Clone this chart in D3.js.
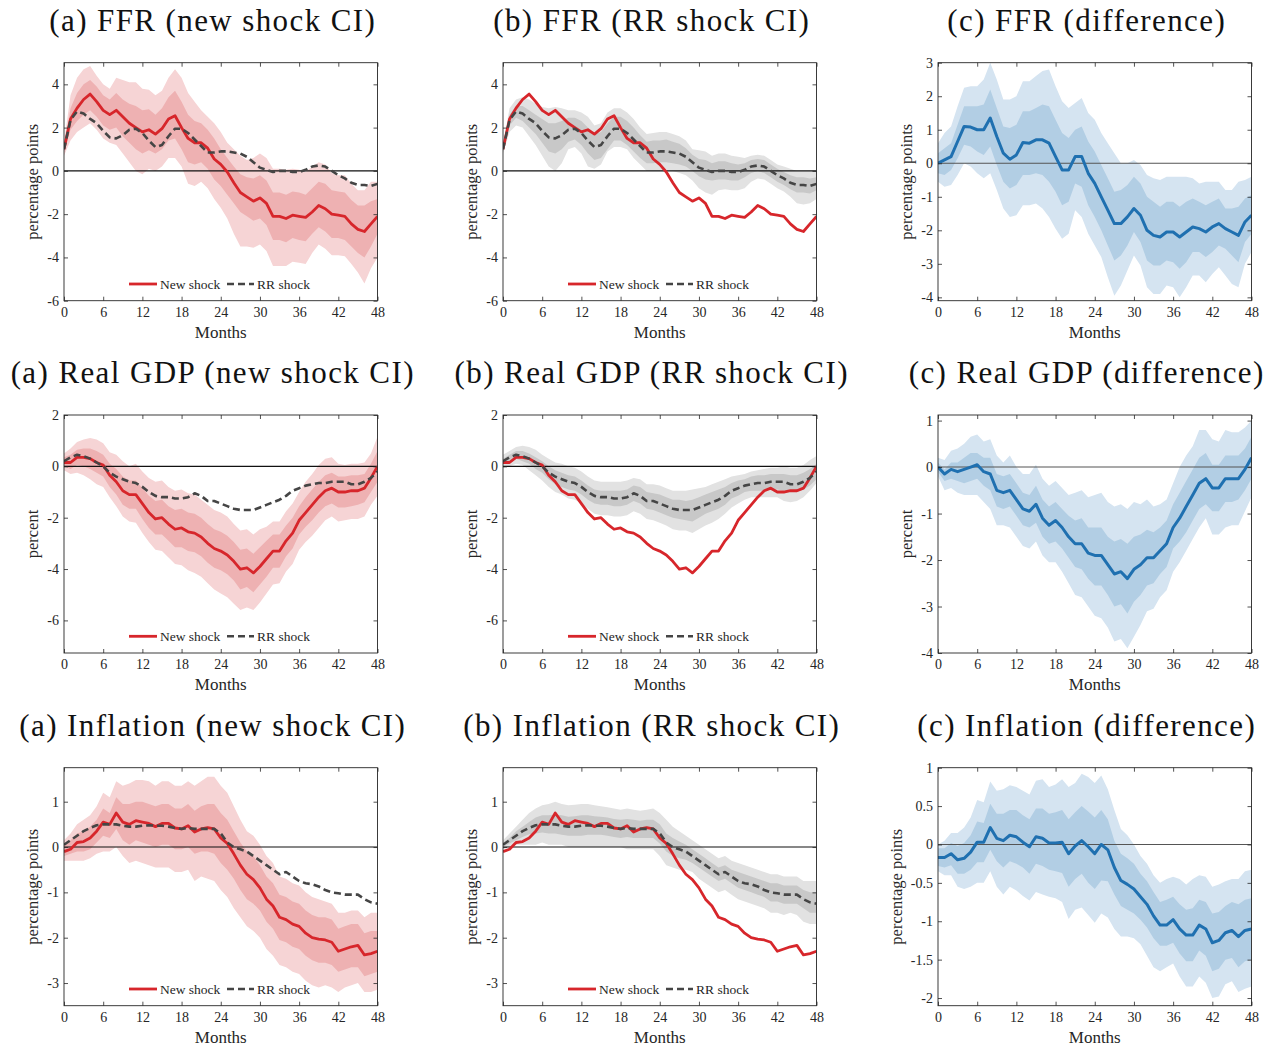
<!DOCTYPE html>
<html>
<head>
<meta charset="utf-8">
<script src="https://d3js.org/d3.v7.min.js"></script>
<style>
  body { margin: 0; background: #fff; }
  text { font-family: "Liberation Serif", "DejaVu Serif", serif; fill: #262626; }
</style>
</head>
<body>
<script>
// horizon in months
var months = d3.range(0, 49);
var monthTicks = [0, 6, 12, 18, 24, 30, 36, 42, 48];

// ---- FFR ----
var ffrNew = [1.0,2.4,2.9,3.3,3.55,3.2,2.8,2.6,2.8,2.5,2.2,2.0,1.8,1.9,1.7,1.95,2.4,2.55,2.0,1.5,1.3,1.3,1.05,0.55,0.3,-0.05,-0.55,-1.0,-1.2,-1.4,-1.25,-1.5,-2.1,-2.1,-2.2,-2.05,-2.1,-2.15,-1.9,-1.6,-1.75,-2.0,-2.05,-2.1,-2.45,-2.7,-2.8,-2.45,-2.1];
var ffrNewHi90 = [1.3,3.5,4.3,4.7,4.85,4.4,4.0,3.8,4.3,4.2,4.1,4.1,3.8,3.75,3.5,3.7,4.3,4.7,4.3,3.6,3.2,2.8,2.5,2.2,1.8,1.3,1.0,0.7,0.5,0.6,0.8,0.6,0.1,0.1,0.05,0.1,0.05,-0.05,0.2,0.4,0.3,-0.1,-0.2,-0.2,-0.6,-0.9,-0.9,-0.5,-0.5];
var ffrNewLo90 = [0.7,1.4,1.8,2.0,2.2,1.9,1.5,1.3,1.2,0.8,0.4,0.0,-0.15,0.1,0.0,0.2,0.6,0.6,0.2,-0.6,-0.7,-0.5,-0.8,-1.3,-1.7,-2.2,-2.9,-3.5,-3.5,-3.55,-3.4,-3.7,-4.4,-4.4,-4.4,-4.2,-4.25,-4.3,-3.8,-3.4,-3.6,-3.9,-3.9,-3.95,-4.3,-4.7,-5.2,-4.5,-4.0];
var ffrNewHi68 = [1.15,2.9,3.6,4.0,4.2,3.9,3.5,3.3,3.6,3.3,3.1,3.0,2.8,2.85,2.6,2.9,3.4,3.7,3.2,2.6,2.3,2.2,1.9,1.5,1.0,0.6,0.2,-0.15,-0.3,-0.35,-0.2,-0.45,-1.0,-1.0,-1.1,-0.95,-1.0,-1.1,-0.8,-0.5,-0.6,-0.9,-0.95,-1.0,-1.35,-1.6,-1.6,-1.4,-1.3];
var ffrNewLo68 = [0.85,1.9,2.3,2.6,2.8,2.5,2.1,1.9,2.0,1.6,1.3,1.0,0.8,0.95,0.8,1.0,1.4,1.5,1.0,0.4,0.3,0.4,0.1,-0.4,-0.7,-1.1,-1.5,-1.9,-2.1,-2.3,-2.2,-2.5,-3.2,-3.2,-3.3,-3.1,-3.2,-3.25,-2.9,-2.6,-2.8,-3.1,-3.1,-3.2,-3.5,-3.8,-4.0,-3.5,-2.9];
var ffrRR = [1.0,2.35,2.75,2.65,2.4,2.2,1.85,1.55,1.5,1.65,1.9,1.95,1.75,1.4,1.1,1.2,1.6,1.95,1.95,1.75,1.45,1.15,0.85,0.85,0.9,0.9,0.85,0.8,0.65,0.4,0.15,0.05,-0.05,0.0,0.0,-0.05,-0.05,0.05,0.2,0.25,0.2,0.0,-0.2,-0.35,-0.55,-0.65,-0.65,-0.7,-0.6];
var ffrRRHi90 = [1.2,2.9,3.3,3.4,3.3,3.1,2.95,2.9,2.95,2.9,2.8,2.8,2.7,2.5,2.1,2.2,2.7,2.9,2.9,2.7,2.4,2.0,1.7,1.75,1.8,1.8,1.7,1.6,1.4,1.0,0.95,0.9,0.7,0.8,0.8,0.7,0.65,0.6,0.7,0.75,0.7,0.5,0.3,0.2,0.1,0.0,0.0,0.0,0.0];
var ffrRRLo90 = [0.8,1.8,2.1,2.0,1.6,1.2,0.7,0.2,0.0,0.35,1.0,1.1,0.8,0.2,0.1,0.3,0.9,1.1,1.1,1.0,0.6,0.3,0.0,0.0,0.0,0.05,0.0,-0.1,-0.2,-0.45,-0.8,-1.0,-1.1,-0.9,-0.85,-0.9,-0.9,-0.8,-0.5,-0.35,-0.4,-0.6,-0.8,-0.95,-1.2,-1.5,-1.55,-1.5,-1.3];
var ffrRRHi68 = [1.1,2.6,3.0,3.0,2.8,2.6,2.4,2.2,2.2,2.3,2.45,2.45,2.3,2.0,1.7,1.8,2.2,2.5,2.5,2.3,2.0,1.65,1.35,1.4,1.4,1.45,1.35,1.25,1.05,0.75,0.55,0.5,0.35,0.45,0.45,0.35,0.3,0.35,0.5,0.55,0.5,0.3,0.1,-0.05,-0.2,-0.3,-0.3,-0.35,-0.3];
var ffrRRLo68 = [0.9,2.1,2.45,2.3,2.0,1.7,1.3,0.9,0.8,1.0,1.35,1.45,1.2,0.8,0.5,0.6,1.0,1.4,1.4,1.2,0.9,0.6,0.35,0.35,0.4,0.4,0.35,0.3,0.2,0.0,-0.25,-0.4,-0.45,-0.4,-0.4,-0.45,-0.45,-0.3,-0.1,0.0,-0.1,-0.3,-0.5,-0.65,-0.85,-1.0,-1.0,-1.05,-0.9];
var ffrDiff = [0.0,0.1,0.2,0.65,1.1,1.08,1.0,1.0,1.35,0.8,0.3,0.12,0.25,0.62,0.6,0.7,0.7,0.6,0.2,-0.2,-0.2,0.2,0.2,-0.3,-0.6,-1.0,-1.4,-1.8,-1.8,-1.6,-1.35,-1.55,-2.0,-2.15,-2.2,-2.05,-2.05,-2.2,-2.05,-1.9,-1.95,-2.05,-1.9,-1.8,-1.95,-2.05,-2.15,-1.75,-1.55];
var ffrDiffHi90 = [0.6,0.9,1.1,1.7,2.25,2.3,2.3,2.5,3.0,2.5,1.9,1.9,2.0,2.45,2.45,2.6,2.75,2.8,2.3,1.85,1.65,1.8,1.95,1.5,1.3,0.9,0.6,0.3,0.0,0.0,0.1,-0.05,-0.35,-0.45,-0.5,-0.4,-0.4,-0.4,-0.4,-0.45,-0.6,-0.55,-0.55,-0.55,-0.8,-0.8,-0.55,-0.5,-0.4];
var ffrDiffLo90 = [-0.55,-0.7,-0.65,-0.35,0.0,-0.1,-0.3,-0.45,-0.3,-0.8,-1.35,-1.6,-1.55,-1.25,-1.25,-1.2,-1.35,-1.6,-1.95,-2.25,-2.1,-1.4,-1.6,-2.1,-2.45,-2.8,-3.4,-3.95,-3.65,-3.2,-2.75,-3.05,-3.7,-3.9,-3.9,-3.65,-3.7,-4.0,-3.7,-3.35,-3.35,-3.55,-3.3,-3.1,-3.35,-3.6,-3.7,-3.0,-2.65];
var ffrDiffHi68 = [0.3,0.45,0.6,1.15,1.7,1.7,1.7,1.75,2.2,1.65,1.1,1.05,1.15,1.55,1.55,1.65,1.75,1.7,1.3,0.9,0.75,1.0,1.1,0.65,0.35,-0.05,-0.45,-0.85,-0.8,-0.65,-0.4,-0.6,-1.0,-1.15,-1.3,-1.15,-1.15,-1.3,-1.15,-1.05,-1.15,-1.25,-1.15,-1.05,-1.35,-1.35,-1.3,-1.05,-0.95];
var ffrDiffLo68 = [-0.3,-0.35,-0.2,0.15,0.55,0.5,0.35,0.25,0.5,-0.05,-0.55,-0.75,-0.65,-0.35,-0.35,-0.3,-0.35,-0.55,-0.85,-1.25,-1.15,-0.6,-0.7,-1.25,-1.6,-2.0,-2.45,-2.9,-2.75,-2.45,-2.05,-2.35,-2.9,-3.05,-3.05,-2.9,-2.95,-3.15,-2.95,-2.65,-2.65,-2.8,-2.65,-2.45,-2.55,-2.75,-2.95,-2.35,-2.1];

// ---- Real GDP ----
var gdpNew = [0.15,0.15,0.35,0.35,0.3,0.15,0.05,-0.35,-0.6,-0.95,-1.1,-1.1,-1.45,-1.8,-2.05,-2.0,-2.25,-2.45,-2.4,-2.55,-2.6,-2.75,-3.0,-3.2,-3.3,-3.45,-3.7,-4.0,-3.95,-4.15,-3.9,-3.6,-3.3,-3.3,-2.9,-2.6,-2.1,-1.8,-1.5,-1.2,-0.95,-0.85,-1.0,-1.0,-0.95,-0.95,-0.85,-0.45,0.0];
var gdpNewHi90 = [0.5,0.7,0.95,1.05,1.1,1.05,0.9,0.55,0.45,0.2,0.0,0.1,-0.2,-0.45,-0.6,-0.55,-0.8,-0.95,-0.9,-1.05,-1.1,-1.3,-1.5,-1.7,-1.8,-1.95,-2.25,-2.5,-2.45,-2.65,-2.45,-2.35,-2.15,-2.15,-1.75,-1.45,-1.0,-0.6,-0.3,0.05,0.3,0.35,0.1,0.05,0.1,0.1,0.15,0.5,1.15];
var gdpNewLo90 = [-0.15,-0.3,-0.25,-0.35,-0.5,-0.7,-0.8,-1.2,-1.55,-1.95,-2.15,-2.2,-2.6,-2.95,-3.25,-3.3,-3.55,-3.8,-3.85,-4.05,-4.15,-4.3,-4.55,-4.8,-4.95,-5.1,-5.35,-5.6,-5.5,-5.6,-5.3,-4.95,-4.6,-4.55,-4.1,-3.8,-3.25,-2.95,-2.7,-2.4,-2.1,-1.95,-2.15,-2.1,-2.05,-2.05,-1.95,-1.5,-1.15];
var gdpNewHi68 = [0.35,0.45,0.65,0.7,0.7,0.6,0.45,0.1,-0.1,-0.4,-0.55,-0.55,-0.85,-1.15,-1.35,-1.3,-1.55,-1.7,-1.65,-1.8,-1.85,-2.0,-2.25,-2.45,-2.55,-2.7,-2.95,-3.25,-3.2,-3.4,-3.15,-2.9,-2.65,-2.65,-2.3,-2.0,-1.55,-1.2,-0.9,-0.6,-0.35,-0.25,-0.4,-0.4,-0.35,-0.35,-0.3,0.1,0.6];
var gdpNewLo68 = [0.0,-0.1,0.05,0.0,-0.1,-0.25,-0.4,-0.8,-1.1,-1.5,-1.65,-1.65,-2.05,-2.4,-2.65,-2.65,-2.9,-3.15,-3.15,-3.3,-3.35,-3.5,-3.75,-3.95,-4.05,-4.2,-4.45,-4.8,-4.7,-4.9,-4.6,-4.3,-3.95,-3.95,-3.5,-3.2,-2.65,-2.35,-2.1,-1.8,-1.55,-1.45,-1.6,-1.6,-1.55,-1.5,-1.4,-1.0,-0.6];
var gdpRR = [0.2,0.35,0.45,0.4,0.3,0.15,0.0,-0.25,-0.4,-0.5,-0.6,-0.65,-0.8,-1.0,-1.15,-1.2,-1.2,-1.25,-1.25,-1.2,-1.05,-1.15,-1.35,-1.35,-1.45,-1.55,-1.65,-1.7,-1.7,-1.7,-1.6,-1.5,-1.4,-1.3,-1.15,-0.95,-0.85,-0.75,-0.7,-0.65,-0.65,-0.6,-0.6,-0.6,-0.7,-0.7,-0.6,-0.45,-0.2];
var gdpRRHi90 = [0.45,0.6,0.75,0.8,0.75,0.65,0.45,0.3,0.15,0.1,0.0,-0.05,-0.2,-0.4,-0.55,-0.6,-0.6,-0.6,-0.6,-0.55,-0.45,-0.5,-0.7,-0.7,-0.75,-0.85,-0.95,-0.95,-0.95,-0.9,-0.85,-0.8,-0.7,-0.6,-0.5,-0.4,-0.35,-0.3,-0.2,-0.15,-0.1,-0.05,-0.05,0.0,-0.05,-0.05,0.05,0.25,0.4];
var gdpRRLo90 = [-0.05,0.0,0.1,0.05,-0.15,-0.35,-0.55,-0.8,-1.0,-1.1,-1.25,-1.3,-1.45,-1.65,-1.85,-1.9,-1.9,-1.95,-1.95,-1.9,-1.75,-1.85,-2.05,-2.1,-2.2,-2.3,-2.45,-2.5,-2.5,-2.6,-2.45,-2.3,-2.2,-2.05,-1.85,-1.6,-1.45,-1.3,-1.2,-1.2,-1.2,-1.2,-1.2,-1.35,-1.4,-1.35,-1.2,-0.95,-0.65];
var gdpRRHi68 = [0.3,0.45,0.6,0.6,0.5,0.35,0.2,0.0,-0.15,-0.25,-0.35,-0.4,-0.55,-0.75,-0.9,-0.95,-0.95,-0.95,-0.95,-0.9,-0.75,-0.8,-1.0,-1.05,-1.1,-1.2,-1.3,-1.3,-1.35,-1.3,-1.2,-1.1,-1.0,-0.9,-0.8,-0.65,-0.55,-0.5,-0.4,-0.35,-0.35,-0.3,-0.3,-0.3,-0.35,-0.35,-0.25,-0.1,0.1];
var gdpRRLo68 = [0.1,0.2,0.3,0.2,0.1,-0.1,-0.25,-0.5,-0.7,-0.8,-0.9,-0.95,-1.1,-1.3,-1.45,-1.5,-1.5,-1.55,-1.55,-1.5,-1.35,-1.45,-1.65,-1.7,-1.8,-1.9,-2.0,-2.05,-2.1,-2.15,-2.0,-1.85,-1.75,-1.65,-1.5,-1.25,-1.15,-1.0,-0.95,-0.95,-0.95,-0.9,-0.9,-0.95,-1.0,-1.0,-0.9,-0.75,-0.5];
var gdpDiff = [0.0,-0.15,-0.05,-0.1,-0.05,0.0,0.05,-0.1,-0.15,-0.5,-0.55,-0.5,-0.7,-0.9,-0.95,-0.8,-1.1,-1.25,-1.15,-1.3,-1.5,-1.65,-1.65,-1.85,-1.9,-1.9,-2.1,-2.3,-2.25,-2.4,-2.2,-2.1,-1.95,-1.95,-1.8,-1.65,-1.3,-1.1,-0.85,-0.6,-0.35,-0.25,-0.45,-0.45,-0.25,-0.25,-0.25,-0.05,0.2];
var gdpDiffHi90 = [0.2,0.15,0.35,0.4,0.5,0.65,0.7,0.55,0.6,0.25,0.1,0.25,0.0,-0.15,-0.15,0.05,-0.25,-0.4,-0.3,-0.45,-0.6,-0.55,-0.5,-0.65,-0.6,-0.55,-0.75,-0.85,-0.8,-0.9,-0.75,-0.8,-0.7,-0.85,-0.8,-0.7,-0.35,0.0,0.25,0.45,0.8,0.8,0.6,0.55,0.8,0.75,0.75,0.85,1.0];
var gdpDiffLo90 = [-0.2,-0.5,-0.45,-0.55,-0.6,-0.6,-0.6,-0.75,-0.9,-1.25,-1.25,-1.3,-1.5,-1.7,-1.75,-1.6,-1.9,-2.05,-2.05,-2.25,-2.5,-2.75,-2.8,-3.0,-3.2,-3.25,-3.45,-3.75,-3.7,-3.9,-3.65,-3.4,-3.1,-3.05,-2.8,-2.65,-2.25,-2.05,-1.8,-1.55,-1.3,-1.1,-1.45,-1.45,-1.3,-1.25,-1.25,-0.95,-0.65];
var gdpDiffHi68 = [0.1,-0.05,0.1,0.1,0.2,0.3,0.3,0.2,0.2,-0.15,-0.2,-0.15,-0.35,-0.55,-0.6,-0.4,-0.7,-0.85,-0.75,-0.9,-1.05,-1.15,-1.1,-1.3,-1.3,-1.3,-1.5,-1.6,-1.55,-1.65,-1.5,-1.45,-1.35,-1.4,-1.3,-1.15,-0.8,-0.55,-0.3,-0.05,0.2,0.3,0.05,0.05,0.25,0.25,0.25,0.4,0.65];
var gdpDiffLo68 = [-0.1,-0.3,-0.25,-0.3,-0.35,-0.3,-0.25,-0.4,-0.5,-0.85,-0.9,-0.85,-1.05,-1.25,-1.3,-1.2,-1.5,-1.65,-1.6,-1.75,-1.95,-2.15,-2.2,-2.4,-2.55,-2.55,-2.75,-3.0,-2.95,-3.15,-2.9,-2.75,-2.55,-2.5,-2.3,-2.15,-1.75,-1.6,-1.4,-1.15,-0.9,-0.8,-0.95,-0.95,-0.75,-0.75,-0.7,-0.5,-0.25];

// ---- Inflation ----
var infNew = [-0.1,-0.05,0.1,0.12,0.2,0.35,0.55,0.5,0.75,0.55,0.5,0.58,0.55,0.52,0.45,0.52,0.52,0.42,0.4,0.47,0.33,0.4,0.43,0.4,0.2,0.08,-0.15,-0.4,-0.6,-0.72,-0.9,-1.15,-1.3,-1.55,-1.6,-1.7,-1.75,-1.9,-2.0,-2.03,-2.05,-2.1,-2.3,-2.25,-2.2,-2.17,-2.38,-2.35,-2.3];
var infNewHi90 = [0.15,0.3,0.5,0.6,0.7,0.9,1.2,1.1,1.45,1.35,1.4,1.48,1.48,1.45,1.35,1.45,1.45,1.35,1.35,1.45,1.35,1.45,1.55,1.55,1.35,1.2,0.9,0.6,0.35,0.25,0.05,-0.2,-0.35,-0.65,-0.7,-0.8,-0.85,-1.0,-1.1,-1.15,-1.2,-1.25,-1.45,-1.45,-1.4,-1.4,-1.55,-1.45,-1.45];
var infNewLo90 = [-0.3,-0.3,-0.3,-0.3,-0.25,-0.15,-0.1,-0.1,0.0,-0.2,-0.35,-0.3,-0.35,-0.4,-0.45,-0.45,-0.45,-0.55,-0.55,-0.5,-0.75,-0.65,-0.7,-0.75,-0.95,-1.1,-1.35,-1.55,-1.75,-1.85,-2.0,-2.25,-2.4,-2.6,-2.65,-2.75,-2.8,-2.95,-3.05,-3.1,-3.05,-3.1,-3.2,-3.1,-3.05,-3.0,-3.2,-3.2,-3.15];
var infNewHi68 = [0.05,0.15,0.3,0.35,0.45,0.6,0.85,0.75,1.1,0.95,0.95,1.0,1.0,0.95,0.9,0.95,0.95,0.85,0.85,0.95,0.8,0.9,0.95,0.95,0.75,0.6,0.35,0.1,-0.1,-0.2,-0.4,-0.65,-0.8,-1.05,-1.1,-1.2,-1.25,-1.4,-1.5,-1.55,-1.55,-1.6,-1.8,-1.75,-1.7,-1.7,-1.9,-1.85,-1.85];
var infNewLo68 = [-0.2,-0.15,-0.1,-0.1,-0.05,0.1,0.25,0.2,0.4,0.15,0.05,0.15,0.1,0.05,0.0,0.05,0.05,-0.05,-0.05,0.0,-0.15,-0.1,-0.1,-0.15,-0.35,-0.5,-0.7,-0.95,-1.15,-1.25,-1.4,-1.65,-1.8,-2.05,-2.1,-2.2,-2.25,-2.4,-2.5,-2.55,-2.55,-2.6,-2.75,-2.7,-2.65,-2.65,-2.85,-2.8,-2.75];
var infRR = [0.05,0.15,0.25,0.35,0.42,0.48,0.5,0.5,0.5,0.47,0.45,0.45,0.47,0.48,0.47,0.47,0.45,0.42,0.4,0.42,0.4,0.4,0.4,0.4,0.3,0.1,0.0,-0.05,-0.1,-0.2,-0.3,-0.4,-0.5,-0.6,-0.55,-0.65,-0.75,-0.8,-0.82,-0.87,-0.95,-1.0,-1.02,-1.05,-1.05,-1.05,-1.15,-1.22,-1.25];
var infRRHi90 = [0.15,0.3,0.45,0.6,0.75,0.85,0.92,0.95,1.0,0.95,0.92,0.93,0.95,0.95,0.92,0.9,0.88,0.85,0.82,0.85,0.82,0.8,0.82,0.85,0.75,0.6,0.45,0.35,0.25,0.15,0.05,-0.05,-0.15,-0.25,-0.2,-0.3,-0.35,-0.4,-0.45,-0.5,-0.55,-0.6,-0.6,-0.65,-0.65,-0.65,-0.75,-0.75,-0.75];
var infRRLo90 = [-0.05,0.0,0.05,0.05,0.05,0.05,0.1,0.05,0.05,0.05,0.0,0.0,0.0,0.0,0.0,0.0,0.0,0.0,0.0,-0.05,-0.05,-0.05,-0.05,-0.05,-0.2,-0.4,-0.45,-0.5,-0.5,-0.55,-0.7,-0.8,-0.9,-1.0,-0.95,-1.05,-1.15,-1.2,-1.25,-1.3,-1.35,-1.45,-1.45,-1.5,-1.45,-1.5,-1.65,-1.7,-1.7];
var infRRHi68 = [0.1,0.2,0.35,0.45,0.55,0.65,0.7,0.7,0.72,0.7,0.67,0.68,0.7,0.7,0.68,0.67,0.65,0.62,0.6,0.62,0.6,0.58,0.6,0.6,0.5,0.3,0.2,0.12,0.05,-0.05,-0.15,-0.25,-0.35,-0.45,-0.4,-0.5,-0.55,-0.6,-0.65,-0.7,-0.75,-0.8,-0.8,-0.85,-0.85,-0.85,-0.95,-1.0,-1.0];
var infRRLo68 = [0.0,0.08,0.15,0.22,0.28,0.3,0.32,0.3,0.3,0.27,0.25,0.25,0.25,0.27,0.27,0.27,0.25,0.22,0.2,0.22,0.2,0.2,0.2,0.2,0.08,-0.1,-0.2,-0.25,-0.28,-0.35,-0.45,-0.55,-0.65,-0.75,-0.7,-0.8,-0.9,-0.95,-1.0,-1.05,-1.1,-1.2,-1.2,-1.25,-1.25,-1.25,-1.35,-1.45,-1.45];
var infDiff = [-0.17,-0.17,-0.12,-0.2,-0.18,-0.1,0.03,0.03,0.22,0.08,0.05,0.12,0.1,0.03,-0.03,0.1,0.08,0.02,0.02,0.03,-0.12,-0.02,0.05,-0.03,-0.12,0.0,-0.07,-0.3,-0.47,-0.52,-0.58,-0.68,-0.78,-0.93,-1.05,-1.05,-0.98,-1.1,-1.18,-1.18,-1.05,-1.1,-1.28,-1.25,-1.15,-1.12,-1.2,-1.12,-1.1];
var infDiffHi90 = [0.0,0.05,0.15,0.15,0.22,0.35,0.58,0.55,0.82,0.7,0.72,0.77,0.75,0.7,0.65,0.83,0.85,0.75,0.78,0.85,0.75,0.8,0.92,0.88,0.8,0.9,0.72,0.45,0.2,0.12,0.0,-0.15,-0.25,-0.4,-0.5,-0.45,-0.42,-0.45,-0.52,-0.45,-0.4,-0.42,-0.55,-0.52,-0.48,-0.45,-0.45,-0.35,-0.33];
var infDiffLo90 = [-0.35,-0.4,-0.4,-0.55,-0.58,-0.55,-0.5,-0.5,-0.35,-0.55,-0.65,-0.55,-0.6,-0.67,-0.73,-0.62,-0.65,-0.68,-0.7,-0.75,-0.97,-0.85,-0.82,-0.92,-1.02,-0.9,-0.95,-1.1,-1.2,-1.2,-1.22,-1.3,-1.45,-1.6,-1.65,-1.6,-1.55,-1.72,-1.85,-1.85,-1.72,-1.8,-2.0,-1.98,-1.82,-1.78,-1.92,-1.88,-1.85];
var infDiffHi68 = [-0.05,-0.05,0.02,-0.02,0.02,0.12,0.3,0.28,0.53,0.4,0.4,0.45,0.45,0.38,0.33,0.47,0.47,0.4,0.42,0.45,0.33,0.42,0.5,0.43,0.35,0.45,0.33,0.05,-0.12,-0.18,-0.25,-0.38,-0.48,-0.62,-0.75,-0.72,-0.68,-0.78,-0.85,-0.83,-0.72,-0.75,-0.9,-0.88,-0.8,-0.75,-0.78,-0.72,-0.7];
var infDiffLo68 = [-0.28,-0.3,-0.27,-0.38,-0.38,-0.33,-0.23,-0.23,-0.07,-0.22,-0.3,-0.22,-0.25,-0.3,-0.38,-0.25,-0.28,-0.33,-0.35,-0.37,-0.55,-0.45,-0.38,-0.5,-0.58,-0.47,-0.48,-0.65,-0.8,-0.85,-0.9,-0.98,-1.08,-1.22,-1.32,-1.32,-1.28,-1.42,-1.52,-1.52,-1.38,-1.45,-1.65,-1.62,-1.5,-1.48,-1.6,-1.52,-1.5];

// axis ranges and tick labels
var ffrDomain = [-6, 5], ffrTicks = [-6, -4, -2, 0, 2, 4];
var ffrDiffDomain = [-4.1, 3], ffrDiffTicks = [-4, -3, -2, -1, 0, 1, 2, 3];
var gdpDomain = [-7.27, 2], gdpTicks = [-6, -4, -2, 0, 2];
var gdpDiffDomain = [-4, 1.12], gdpDiffTicks = [-4, -3, -2, -1, 0, 1];
var infDomain = [-3.5, 1.75], infTicks = [-3, -2, -1, 0, 1];
var infDiffDomain = [-2.1, 1], infDiffTicks = [-2, -1.5, -1, -0.5, 0, 0.5, 1];

var rowNames = ["FFR", "Real GDP", "Inflation"];
var legendLabels = ["New shock", "RR shock"];

// colours
var red = "#d7262b", redLight = "#f6d4d5", redDark = "#eeb1b2";
var grey = "#454545", greyLight = "#e2e2e2", greyDark = "#c8c8c8";
var blue = "#1f70b0", blueLight = "#d5e4f1", blueDark = "#b2cee4";

// layout
var W = 1271, H = 1046;
var colLeft = [64, 503, 938], plotW = 313.5;
var rowTop = [62.7, 415, 767.7], plotH = 238;

var svg = d3.select("body").append("svg")
    .attr("width", W)
    .attr("height", H);

var rows = [
    {name: rowNames[0], unit: "percentage points", dom: ffrDomain, ticks: ffrTicks, dDom: ffrDiffDomain, dTicks: ffrDiffTicks, dUnit: "percentage points",
     nw: [ffrNew, ffrNewLo90, ffrNewHi90, ffrNewLo68, ffrNewHi68],
     rr: [ffrRR, ffrRRLo90, ffrRRHi90, ffrRRLo68, ffrRRHi68],
     df: [ffrDiff, ffrDiffLo90, ffrDiffHi90, ffrDiffLo68, ffrDiffHi68]},
    {name: rowNames[1], unit: "percent", dom: gdpDomain, ticks: gdpTicks, dDom: gdpDiffDomain, dTicks: gdpDiffTicks, dUnit: "percent",
     nw: [gdpNew, gdpNewLo90, gdpNewHi90, gdpNewLo68, gdpNewHi68],
     rr: [gdpRR, gdpRRLo90, gdpRRHi90, gdpRRLo68, gdpRRHi68],
     df: [gdpDiff, gdpDiffLo90, gdpDiffHi90, gdpDiffLo68, gdpDiffHi68]},
    {name: rowNames[2], unit: "percentage points", dom: infDomain, ticks: infTicks, dDom: infDiffDomain, dTicks: infDiffTicks, dUnit: "percentage points",
     nw: [infNew, infNewLo90, infNewHi90, infNewLo68, infNewHi68],
     rr: [infRR, infRRLo90, infRRHi90, infRRLo68, infRRHi68],
     df: [infDiff, infDiffLo90, infDiffHi90, infDiffLo68, infDiffHi68]}
];

var clipId = 0;

function drawPanel(r, row, col) {
    var left = colLeft[col], top = rowTop[r], bottom = top + plotH;
    var isDiff = col == 2;
    var dom = isDiff ? row.dDom : row.dom;
    var ticks = isDiff ? row.dTicks : row.ticks;

    var x = d3.scaleLinear().domain([0, 48]).range([left, left + plotW]);
    var y = d3.scaleLinear().domain(dom).range([bottom, top]);

    // title
    var tag = ["(a)", "(b)", "(c)"][col];
    var suffix = ["(new shock CI)", "(RR shock CI)", "(difference)"][col];
    svg.append("text")
        .attr("x", left + plotW / 2 - 8)
        .attr("y", top - 32)
        .attr("text-anchor", "middle")
        .style("font-size", "31px")
        .style("letter-spacing", "1.4px")
        .style("fill", "#111")
        .text(tag + " " + row.name + " " + suffix);

    var id = "clip" + (clipId++);
    svg.append("clipPath").attr("id", id)
        .append("rect")
        .attr("x", left).attr("y", top)
        .attr("width", plotW).attr("height", plotH);

    var g = svg.append("g").attr("clip-path", "url(#" + id + ")");

    function band(lo, hi, fill) {
        var area = d3.area()
            .x(function (d) { return x(d); })
            .y0(function (d, i) { return y(lo[i]); })
            .y1(function (d, i) { return y(hi[i]); });
        g.append("path").datum(months)
            .attr("d", area)
            .style("fill", fill)
            .style("stroke", "none");
    }
    function line(vals, color, width, dash) {
        var ln = d3.line()
            .x(function (d) { return x(d); })
            .y(function (d, i) { return y(vals[i]); });
        g.append("path").datum(months)
            .attr("d", ln)
            .style("fill", "none")
            .style("stroke", color)
            .style("stroke-width", width)
            .style("stroke-linejoin", "round")
            .style("stroke-dasharray", dash || null);
    }

    if (col == 0) {
        band(row.nw[1], row.nw[2], redLight);
        band(row.nw[3], row.nw[4], redDark);
    } else if (col == 1) {
        band(row.rr[1], row.rr[2], greyLight);
        band(row.rr[3], row.rr[4], greyDark);
    } else {
        band(row.df[1], row.df[2], blueLight);
        band(row.df[3], row.df[4], blueDark);
    }

    // zero line
    g.append("line")
        .attr("x1", x(0)).attr("x2", x(48))
        .attr("y1", y(0)).attr("y2", y(0))
        .style("stroke", isDiff ? "#555" : "#111")
        .style("stroke-width", 1.1);

    if (isDiff) {
        line(row.df[0], blue, 3);
    } else {
        line(row.nw[0], red, 2.8);
        line(row.rr[0], grey, 2.6, "7,4");
    }

    // axes with inward ticks on all four sides
    var fmt = function (d) { return String(d); };
    var axes = [
        svg.append("g").attr("transform", "translate(0," + bottom + ")")
            .call(d3.axisBottom(x).tickValues(monthTicks).tickSize(-4).tickPadding(6).tickFormat(fmt)),
        svg.append("g").attr("transform", "translate(0," + top + ")")
            .call(d3.axisTop(x).tickValues(monthTicks).tickSize(-4).tickFormat("")),
        svg.append("g").attr("transform", "translate(" + left + ",0)")
            .call(d3.axisLeft(y).tickValues(ticks).tickSize(-4).tickPadding(5).tickFormat(fmt)),
        svg.append("g").attr("transform", "translate(" + (left + plotW) + ",0)")
            .call(d3.axisRight(y).tickValues(ticks).tickSize(-4).tickFormat(""))
    ];
    axes.forEach(function (a) {
        a.select(".domain").remove();
        a.selectAll(".tick line").style("stroke", "#262626").style("stroke-width", 0.8);
        a.selectAll(".tick text")
            .style("font-family", "'Liberation Serif', serif")
            .style("font-size", "14px")
            .style("fill", "#262626");
    });

    // widest y tick label, so the y title clears it
    var maxW = 0;
    axes[2].selectAll(".tick text").each(function () {
        maxW = Math.max(maxW, this.getBBox().width);
    });

    // box
    svg.append("rect")
        .attr("x", left).attr("y", top)
        .attr("width", plotW).attr("height", plotH)
        .style("fill", "none")
        .style("stroke", "#262626")
        .style("stroke-width", 0.9);

    // axis labels
    svg.append("text")
        .attr("x", left + plotW / 2)
        .attr("y", bottom + 37)
        .attr("text-anchor", "middle")
        .style("font-size", "17px")
        .text("Months");

    svg.append("text")
        .attr("transform", "translate(" + (left - maxW - 14) + "," + (top + plotH / 2) + ") rotate(-90)")
        .attr("text-anchor", "middle")
        .style("font-size", "16.5px")
        .text(isDiff ? row.dUnit : row.unit);

    // legend inside the lower part of the axes
    if (!isDiff) {
        var ly = bottom - 16.7;
        var lg = svg.append("g");
        lg.append("line")
            .attr("x1", left + 65).attr("x2", left + 93)
            .attr("y1", ly).attr("y2", ly)
            .style("stroke", red).style("stroke-width", 2.8);
        lg.append("text")
            .attr("x", left + 96).attr("y", ly + 4.5)
            .style("font-size", "13.5px")
            .text(legendLabels[0]);
        lg.append("line")
            .attr("x1", left + 163).attr("x2", left + 190)
            .attr("y1", ly).attr("y2", ly)
            .style("stroke", grey).style("stroke-width", 2.6)
            .style("stroke-dasharray", "7,4");
        lg.append("text")
            .attr("x", left + 193).attr("y", ly + 4.5)
            .style("font-size", "13.5px")
            .text(legendLabels[1]);
    }
}

rows.forEach(function (row, r) {
    for (var c = 0; c < 3; c++) {
        drawPanel(r, row, c);
    }
});
</script>
</body>
</html>
